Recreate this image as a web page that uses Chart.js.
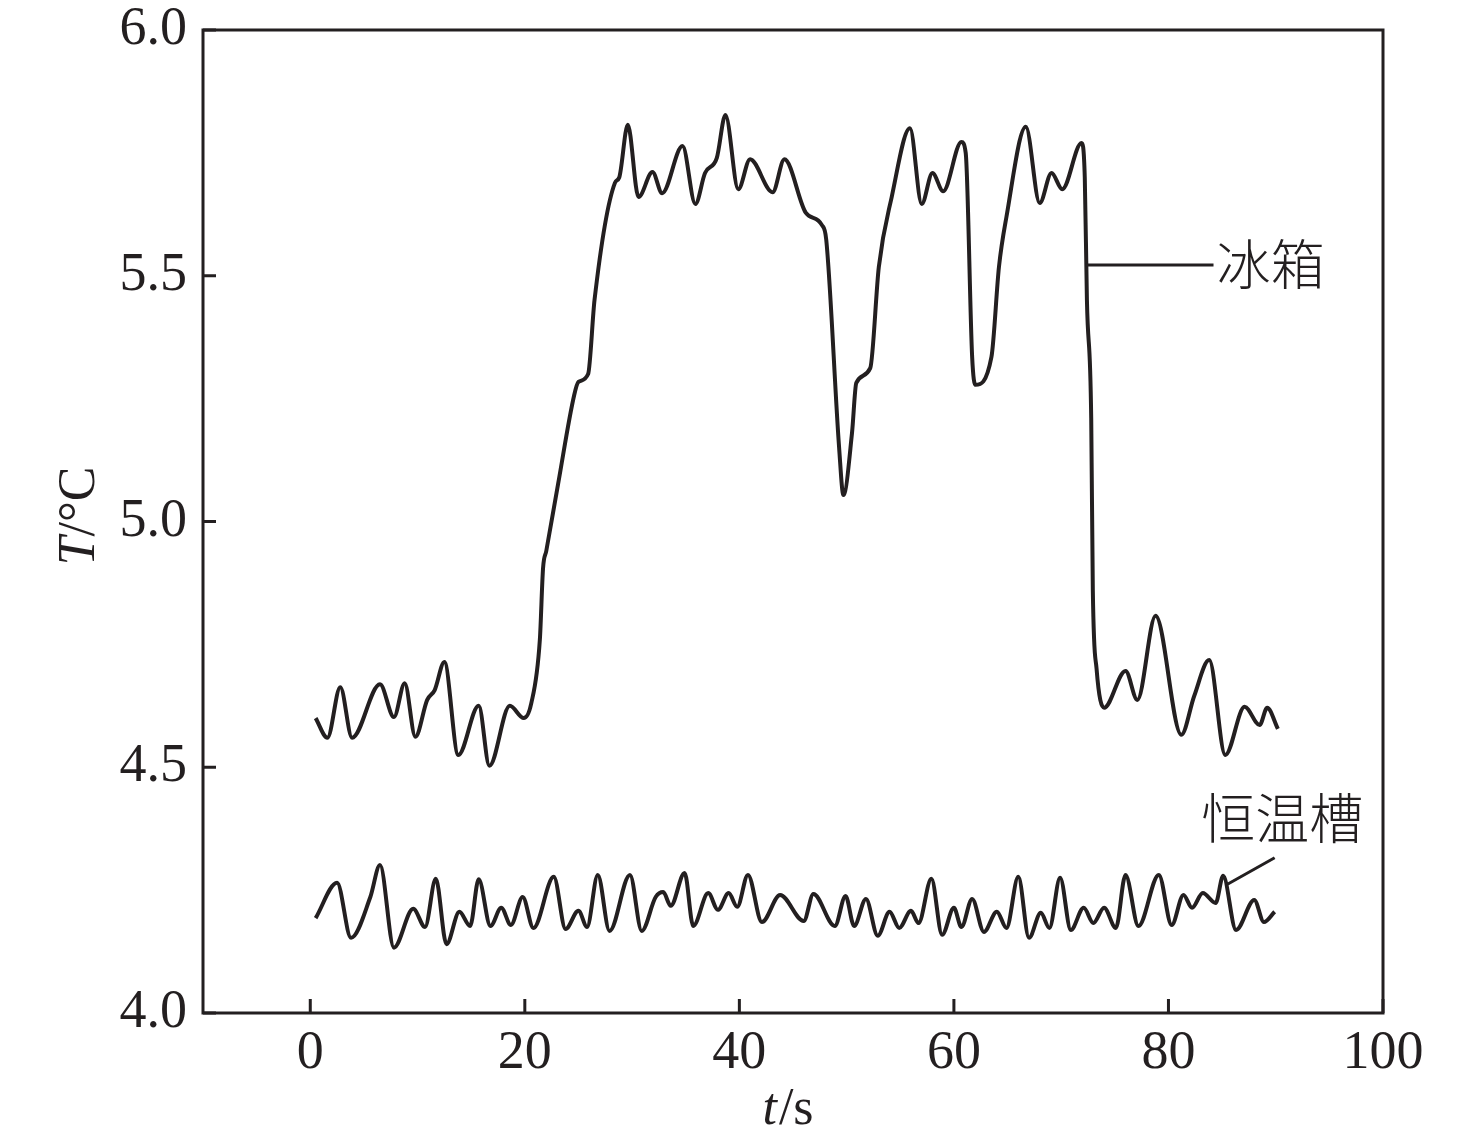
<!DOCTYPE html>
<html>
<head>
<meta charset="utf-8">
<script src="https://cdn.jsdelivr.net/npm/chart.js@4.4.1/dist/chart.umd.min.js"></script>
<style>
  html, body { margin: 0; padding: 0; background: #fff; }
  #wrap { width: 1476px; height: 1143px; }
</style>
</head>
<body>
<div id="wrap"><canvas id="tempChart" width="1476" height="1143"></canvas></div>
<script>
// Time axis / temperature readings taken off the figure
const fridgeTime = [0.5, 1.6, 2.8, 3.9, 6.5, 7.8, 8.8, 9.8, 10.9, 11.6, 12.5, 13.8, 15.7, 16.7, 18.6, 19.9, 20.6, 21.4, 21.7,
  22.0, 23.1, 24.6, 25.0, 25.9, 26.5, 28.4, 28.8, 29.6, 30.6, 31.9, 32.8, 34.7, 35.9, 36.8, 37.9, 38.7, 39.9, 41.0, 43.1, 44.2, 46.2,
  47.7, 48.1, 49.3, 49.7, 50.5, 50.9, 52.2, 53.0, 54.2, 55.9, 57.0, 58.0, 59.0, 60.7, 61.1, 61.7, 62.0, 63.5, 64.2, 64.9,
  66.7, 68.0, 69.1, 70.1, 71.9, 72.2, 72.4, 72.8, 72.95, 73.3, 74.0, 76.0, 77.1, 78.8, 81.2, 82.4, 83.8, 85.3, 87.1, 88.5,
  89.2, 90.2];
const fridgeTemp = [4.600, 4.560, 4.663, 4.560, 4.669, 4.602, 4.671, 4.562, 4.637, 4.657, 4.714, 4.525, 4.625, 4.503, 4.625, 4.600, 4.630, 4.759, 4.905,
  4.940, 5.076, 5.257, 5.284, 5.300, 5.451, 5.689, 5.700, 5.807, 5.660, 5.711, 5.668, 5.764, 5.646, 5.709, 5.740, 5.827, 5.676, 5.737, 5.670, 5.737, 5.628,
  5.603, 5.573, 5.150, 5.054, 5.180, 5.282, 5.312, 5.518, 5.660, 5.800, 5.646, 5.709, 5.672, 5.772, 5.750, 5.335, 5.278, 5.335, 5.518, 5.620,
  5.803, 5.648, 5.709, 5.676, 5.770, 5.700, 5.450, 5.210, 4.860, 4.700, 4.621, 4.696, 4.637, 4.808, 4.566, 4.645, 4.718, 4.525, 4.623, 4.586,
  4.621, 4.578];

const bathTime = [0.5, 2.5, 3.8, 5.6, 6.5, 7.8, 9.6, 10.7, 11.7, 12.7, 13.9, 14.9, 15.7, 16.8, 17.8, 18.7, 19.8, 20.8, 22.7, 23.8,
  25.0, 25.8, 26.8, 27.9, 29.8, 30.9, 32.2, 32.9, 33.6, 34.9, 35.7, 37.1, 38.0, 39.0, 39.8, 40.8, 42.1, 43.8, 46.0, 46.9,
  48.9, 49.9, 50.7, 51.8, 52.9, 54.0, 54.9, 56.0, 56.7, 57.9, 58.9, 60.0, 60.7, 61.7, 62.8, 64.0, 64.9, 66.0, 67.0, 68.1,
  68.9, 69.9, 70.9, 72.1, 73.0, 74.0, 75.1, 76.0, 77.2, 79.1, 80.3, 81.4, 82.2, 83.2, 84.4, 85.1, 86.3, 88.0, 88.9, 89.9];
const bathTemp = [4.193, 4.265, 4.153, 4.236, 4.301, 4.133, 4.212, 4.175, 4.273, 4.140, 4.206, 4.177, 4.272, 4.177, 4.214, 4.179, 4.236, 4.173, 4.277, 4.171,
  4.208, 4.175, 4.281, 4.167, 4.281, 4.167, 4.236, 4.246, 4.218, 4.285, 4.177, 4.244, 4.210, 4.244, 4.216, 4.281, 4.185, 4.240, 4.187, 4.242,
  4.177, 4.238, 4.177, 4.232, 4.157, 4.206, 4.173, 4.208, 4.183, 4.273, 4.159, 4.214, 4.175, 4.232, 4.165, 4.206, 4.173, 4.277, 4.153, 4.204,
  4.173, 4.275, 4.169, 4.214, 4.183, 4.214, 4.173, 4.281, 4.177, 4.281, 4.179, 4.240, 4.214, 4.244, 4.224, 4.279, 4.169, 4.230, 4.185, 4.206];

const xTicks = [0, 20, 40, 60, 80, 100];
const yTicks = [4.0, 4.5, 5.0, 5.5, 6.0];
const seriesNames = ['冰箱', '恒温槽'];

const INK = '#231f20';
const NUM_FONT = '"Liberation Serif", "DejaVu Serif", serif';
const CJK_FONT = '"Noto Sans CJK SC", "Noto Sans", sans-serif';

function toPoints(xs, ys) {
    return xs.map((x, i) => ({ x: x, y: ys[i] }));
}

// frame, inward ticks, axis titles and curve labels
const decorations = {
    id: 'decorations',
    afterDatasetsDraw(chart) {
        const { ctx, chartArea: a, scales: { x, y } } = chart;
        ctx.save();
        ctx.strokeStyle = INK;
        ctx.lineWidth = 3;
        ctx.strokeRect(a.left, a.top, a.right - a.left, a.bottom - a.top);

        // ticks pointing into the plot
        ctx.beginPath();
        xTicks.forEach(v => {
            const px = x.getPixelForValue(v);
            ctx.moveTo(px, a.bottom);
            ctx.lineTo(px, a.bottom - 14);
        });
        yTicks.forEach(v => {
            const py = y.getPixelForValue(v);
            ctx.moveTo(a.left, py);
            ctx.lineTo(a.left + 13, py);
        });
        ctx.stroke();

        // x title: t/s
        ctx.fillStyle = INK;
        ctx.textBaseline = 'middle';
        ctx.textAlign = 'left';
        const tFont = 'italic 52px ' + NUM_FONT;
        const nFont = '52px ' + NUM_FONT;
        ctx.font = tFont;
        const wT = ctx.measureText('t').width;
        ctx.font = nFont;
        const wS = ctx.measureText('/s').width;
        let sx = 787 - (wT + wS) / 2;
        ctx.font = tFont;
        ctx.fillText('t', sx, 1110);
        ctx.font = nFont;
        ctx.fillText('/s', sx + wT + 2, 1110);

        // y title: T/°C rotated
        ctx.save();
        ctx.translate(80, 516);
        ctx.rotate(-Math.PI / 2);
        ctx.font = tFont;
        const wTT = ctx.measureText('T').width;
        ctx.font = nFont;
        const wC = ctx.measureText('/°C').width;
        sx = -(wTT + wC) / 2;
        ctx.font = tFont;
        ctx.fillText('T', sx, 0);
        ctx.font = nFont;
        ctx.fillText('/°C', sx + wTT, 0);
        ctx.restore();

        // curve labels with leader lines
        ctx.lineWidth = 3;
        ctx.beginPath();
        ctx.moveTo(x.getPixelForValue(72.3), y.getPixelForValue(5.522));
        ctx.lineTo(x.getPixelForValue(84.2), y.getPixelForValue(5.522));
        ctx.moveTo(x.getPixelForValue(85.5), y.getPixelForValue(4.262));
        ctx.lineTo(x.getPixelForValue(89.9), y.getPixelForValue(4.316));
        ctx.stroke();

        ctx.font = '300 54px ' + CJK_FONT;
        ctx.textAlign = 'left';
        ctx.fillText(seriesNames[0], x.getPixelForValue(84.5), y.getPixelForValue(5.522));
        ctx.textAlign = 'center';
        ctx.fillText(seriesNames[1], x.getPixelForValue(90.6), y.getPixelForValue(4.395));
        ctx.restore();
    }
};

const lineStyle = {
    borderColor: INK,
    borderWidth: 4,
    pointRadius: 0,
    fill: false,
    cubicInterpolationMode: 'monotone'
};

new Chart(document.getElementById('tempChart').getContext('2d'), {
    type: 'line',
    data: {
        datasets: [
            Object.assign({ label: seriesNames[0], data: toPoints(fridgeTime, fridgeTemp) }, lineStyle),
            Object.assign({ label: seriesNames[1], data: toPoints(bathTime, bathTemp) }, lineStyle)
        ]
    },
    options: {
        responsive: false,
        animation: false,
        layout: { padding: { left: 0, top: 30, right: 93, bottom: 0 } },
        plugins: {
            legend: { display: false },
            tooltip: { enabled: false }
        },
        scales: {
            x: {
                type: 'linear',
                min: -10,
                max: 100,
                afterFit: s => { s.height = 130; },
                afterBuildTicks: s => { s.ticks = xTicks.map(v => ({ value: v })); },
                grid: { display: false, drawTicks: false },
                border: { display: false },
                ticks: {
                    color: INK,
                    padding: 8,
                    maxRotation: 0,
                    font: { family: NUM_FONT, size: 54 }
                }
            },
            y: {
                min: 4,
                max: 6,
                afterFit: s => { s.width = 203; s.paddingTop = 0; s.paddingBottom = 0; },
                afterBuildTicks: s => { s.ticks = yTicks.map(v => ({ value: v })); },
                grid: { display: false, drawTicks: false },
                border: { display: false },
                ticks: {
                    color: INK,
                    padding: 16,
                    font: { family: NUM_FONT, size: 54, lineHeight: 1 },
                    callback: v => v.toFixed(1)
                }
            }
        }
    },
    plugins: [decorations]
});
</script>
</body>
</html>
